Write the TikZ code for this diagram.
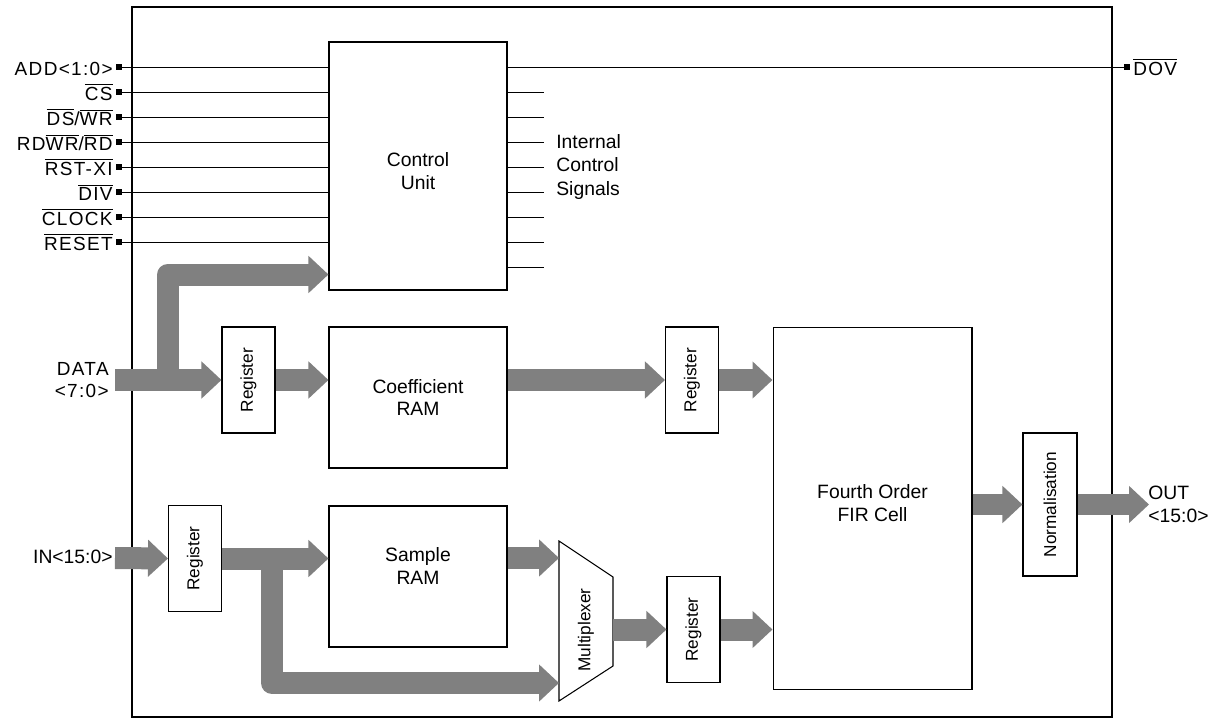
\documentclass[tikz,border=0pt]{standalone}
\usepackage{fontspec}
\setmainfont{Liberation Sans}
\newfontfamily\pinfont[LetterSpace=7]{Liberation Sans}
\usetikzlibrary{arrows.meta}
\definecolor{busgray}{HTML}{808080}
\newcommand{\ovl}[1]{$\overline{\mbox{#1}}$}
\tikzset{
  blk/.style={draw, line width=0.6pt, inner sep=0pt, align=center, font=\fontsize{11}{13}\selectfont},
  regblk/.style={blk, minimum width=1.06cm, minimum height=2.12cm},
  vlbl/.style={rotate=90, inner sep=0pt, font=\fontsize{9.8}{12}\selectfont},
  pinsq/.style={fill, inner sep=0pt, minimum size=0.11cm},
  pinlbl/.style={anchor=base east, inner sep=0pt, font=\pinfont\fontsize{10.8}{13}\selectfont},
  sig/.style={line width=0.5pt},
  bus/.style={line width=0.44cm, draw=busgray, line join=round, -{Triangle[width=0.72cm,length=0.4cm]}},
}
\begin{document}
\begin{tikzpicture}[x=0.02cm, y=-0.02cm]
    \useasboundingbox (0,0) rectangle (1220,719);
    % Chip outline
    \draw[line width=0.6pt] (132,7) rectangle (1112,717);
    % Blocks
    \node[blk, minimum width=3.56cm, minimum height=4.96cm] (ctrl) at (418,166) {};
    \node[blk, minimum width=3.56cm, minimum height=2.82cm] (coef) at (418,397.5) {Coefficient\\RAM};
    \node[blk, minimum width=3.56cm, minimum height=2.82cm] (smp) at (418,576.5) {};
    \node[regblk] (reg1) at (248.5,380) {};
    \node[regblk] (reg2) at (692,380) {};
    \node[regblk] (reg3) at (195,558.5) {};
    \node[regblk] (reg4) at (693.5,629.5) {};
    \node[blk, minimum width=3.98cm, minimum height=7.26cm] (fir) at (872.5,508.5) {};
    \node[blk, minimum width=1.08cm, minimum height=2.86cm] (norm) at (1050,504.5) {};
    \node[blk, draw=none] at (418,171) {Control\\Unit};
    \node[blk, draw=none] at (418,566) {Sample\\RAM};
    \node[blk, draw=none] at (872.5,503.5) {Fourth Order\\FIR Cell};
    \foreach \r in {reg1,reg2,reg3,reg4}
        \node[vlbl] at (\r) {Register};
    \node[vlbl] at (norm) {Normalisation};
    % Multiplexer
    \draw[line width=0.6pt] (559,541) -- (613,577) -- (613,666) -- (559,701) -- cycle;
    \node[vlbl] (mux) at (586,630) {Multiplexer};
    \coordinate (muxa) at (559,558);
    \coordinate (muxb) at (559,683);
    \coordinate (muxo) at (613,629.5);
    % Control pins
    \node[pinsq] (add) at (119,67) {};
    \node[pinsq] (cs) at (119,92) {};
    \node[pinsq] (dswr) at (119,117) {};
    \node[pinsq] (rdwr) at (119,142) {};
    \node[pinsq] (rstxi) at (119,167) {};
    \node[pinsq] (div) at (119,192) {};
    \node[pinsq] (clk) at (119,217) {};
    \node[pinsq] (rst) at (119,242) {};
    \node[pinlbl] at (113,75.5) {ADD<1:0>};
    \node[pinlbl] at (113,100.5) {\ovl{CS}};
    \node[pinlbl] at (113,125.5) {\ovl{DS}/\ovl{WR}};
    \node[pinlbl] at (113,150.5) {RD\ovl{WR}/\ovl{RD}};
    \node[pinlbl] at (113,175.5) {\ovl{RST-XI}};
    \node[pinlbl] at (113,200.5) {\ovl{DIV}};
    \node[pinlbl] at (113,225.5) {\ovl{CLOCK}};
    \node[pinlbl] at (113,250.5) {\ovl{RESET}};
    \foreach \p in {add,cs,dswr,rdwr,rstxi,div,clk,rst}
        \draw[sig] (\p.east) -- (\p.east -| ctrl.west);
    % Overflow pin
    \node[pinsq] (dov) at (1127,67) {};
    \node[pinlbl, anchor=base west] at (1133,75.5) {\ovl{DOV}};
    \draw[sig] (ctrl.east |- dov) -- (dov.west);
    % Internal control signals
    \foreach \y in {92,117,...,267}
        \draw[sig] (ctrl.east |- 0,\y) -- ++(36,0);
    \node[anchor=west, align=left, inner sep=0pt, font=\fontsize{11}{13.5}\selectfont] (ics) at (556,167) {Internal\\Control\\Signals};
    % Data and sample buses
    \node[anchor=east, align=right, inner sep=0pt, font=\pinfont\fontsize{10.8}{13}\selectfont] (datalbl) at (109,380) {DATA\\<7:0>};
    \node[anchor=base east, inner sep=0pt, font=\fontsize{11}{13}\selectfont] (inlbl) at (113,563) {IN<15:0>};
    \node[anchor=west, align=left, inner sep=0pt, font=\fontsize{11}{13}\selectfont] (outlbl) at (1148,504) {OUT\\<15:0>};
    \coordinate (datain) at (115,380);
    \coordinate (dsplit) at (168,380);
    \coordinate (inpin) at (115,558);
    \coordinate (isplit) at (272,558);
    \coordinate (outpin) at (1149,505);
    \draw[bus] (dsplit) |- ([yshift=0.32cm]ctrl.south west);
    \draw[bus] (datain) -- (reg1.west);
    \draw[bus] (reg1.east) -- (reg1.east -| coef.west);
    \draw[bus] (coef.east |- reg2.west) -- (reg2.west);
    \draw[bus] (reg2.east) -- (reg2.east -| fir.west);
    \draw[bus] (isplit) |- (muxb);
    \draw[bus] (inpin) -- (reg3.west);
    \draw[bus] (reg3.east) -- (reg3.east -| smp.west);
    \draw[bus] (smp.east |- muxa) -- (muxa);
    \draw[bus] (muxo) -- (muxo -| reg4.west);
    \draw[bus] (reg4.east) -- (reg4.east -| fir.west);
    \draw[bus] (fir.east |- norm.west) -- (norm.west);
    \draw[bus] (norm.east) -- (norm.east -| outpin);
\end{tikzpicture}
\end{document}
